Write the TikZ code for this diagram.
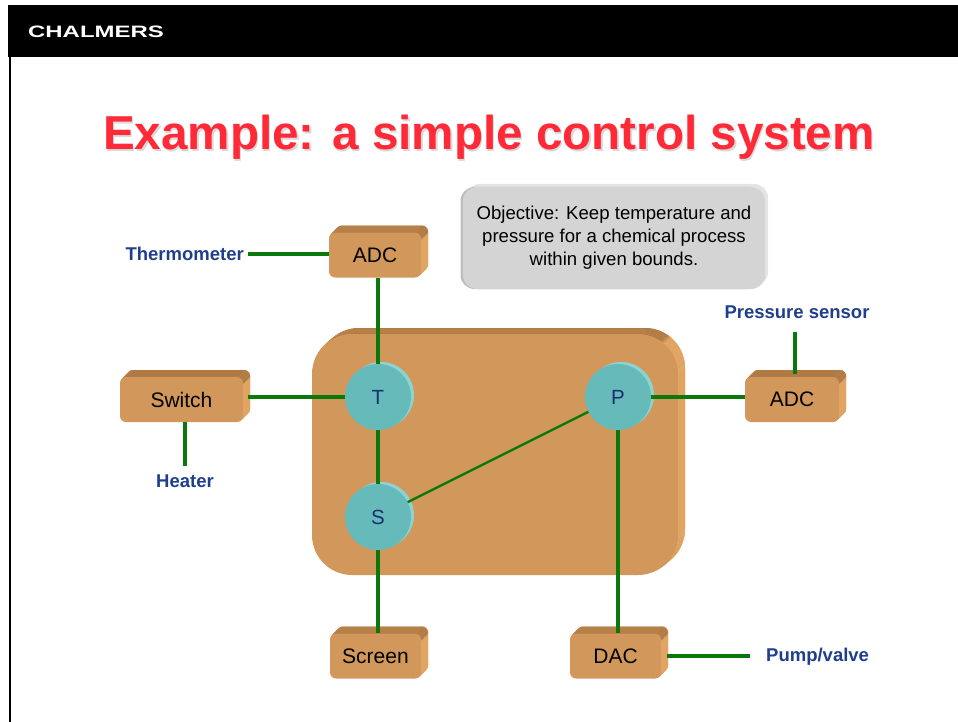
\documentclass[tikz,border=0pt]{standalone}
\usepackage{fontspec}
\setmainfont{Liberation Sans}
\usepackage{graphicx}
\usetikzlibrary{shadows}
\definecolor{boxface}{HTML}{D2975A}
\definecolor{boxtop}{HTML}{B07A45}
\definecolor{boxside}{HTML}{E3A865}
\definecolor{teal}{HTML}{66BABA}
\definecolor{teallight}{HTML}{8ED3D3}
\definecolor{wire}{HTML}{0B780B}
\definecolor{lblue}{HTML}{1F3F8C}
\definecolor{navy}{HTML}{1A2F70}
\definecolor{titlered}{HTML}{FF2A38}
\definecolor{objgray}{HTML}{D4D4D4}
\definecolor{objedge}{HTML}{BDBDBD}
\definecolor{objlight}{HTML}{E4E4E4}
\pgfdeclareverticalshading{extrsmall}{100bp}{color(0bp)=(boxside); color(66bp)=(boxside); color(68bp)=(boxtop); color(100bp)=(boxtop)}
\pgfdeclareverticalshading{extrbig}{100bp}{color(0bp)=(boxside); color(73bp)=(boxside); color(73.6bp)=(boxtop); color(100bp)=(boxtop)}
\begin{document}
\begin{tikzpicture}[x=1pt,y=-1pt,
  exsmall/.style={copy shadow={shadow xshift=7pt, shadow yshift=7pt, shading=extrsmall, draw=none},
    copy shadow={shadow xshift=6pt, shadow yshift=6pt, shading=extrsmall, draw=none},
    copy shadow={shadow xshift=5pt, shadow yshift=5pt, shading=extrsmall, draw=none},
    copy shadow={shadow xshift=4pt, shadow yshift=4pt, shading=extrsmall, draw=none},
    copy shadow={shadow xshift=3pt, shadow yshift=3pt, shading=extrsmall, draw=none},
    copy shadow={shadow xshift=2pt, shadow yshift=2pt, shading=extrsmall, draw=none},
    copy shadow={shadow xshift=1pt, shadow yshift=1pt, shading=extrsmall, draw=none}},
  exbig/.style={copy shadow={shadow xshift=7pt, shadow yshift=6pt, shading=extrbig, draw=none},
    copy shadow={shadow xshift=6pt, shadow yshift=5.1pt, shading=extrbig, draw=none},
    copy shadow={shadow xshift=5pt, shadow yshift=4.3pt, shading=extrbig, draw=none},
    copy shadow={shadow xshift=4pt, shadow yshift=3.4pt, shading=extrbig, draw=none},
    copy shadow={shadow xshift=3pt, shadow yshift=2.6pt, shading=extrbig, draw=none},
    copy shadow={shadow xshift=2pt, shadow yshift=1.7pt, shading=extrbig, draw=none},
    copy shadow={shadow xshift=1pt, shadow yshift=0.9pt, shading=extrbig, draw=none}},
  cbox/.style={rectangle, rounded corners=6pt, fill=boxface, inner sep=0pt,
    minimum width=#1, minimum height=45pt, font=\fontsize{21}{24}\selectfont, exsmall},
  plantbox/.style={rectangle, rounded corners=40pt, fill=boxface, inner sep=0pt,
    minimum width=366pt, minimum height=241pt, exbig},
  ball/.style={circle, fill=teal, minimum size=66pt, inner sep=0pt,
    text=navy, font=\fontsize{20.5}{24}\selectfont,
    copy shadow={shadow xshift=3pt, shadow yshift=2pt, fill=teallight, draw=none}},
  lbl/.style={text=lblue, font=\bfseries\fontsize{18.5}{22}\selectfont, inner sep=2pt},
  wireline/.style={draw=wire, line width=3.2pt},
  thinwire/.style={draw=wire, line width=2.4pt}
]
\useasboundingbox (0,0) rectangle (958,722);
\fill[white] (0,0) rectangle (958,722);
% header
\fill[black] (8,5) rectangle (958,57);
\draw[black, line width=1.6pt] (10,57) -- (10,722);
\node[anchor=base west, text=white, inner sep=0pt] (logo) at (28,38)
  {\scalebox{1.45}[1]{\bfseries\fontsize{16.5}{18}\selectfont CHALMERS}};
% title
\node[anchor=base, text=black!15, inner sep=0pt] (titleshadow) at (490.5,151.5)
  {\bfseries\fontsize{47.6}{56}\selectfont Example: a simple control system};
\node[anchor=base, text=titlered, inner sep=0pt] (title) at (489,150)
  {\bfseries\fontsize{47.6}{56}\selectfont Example: a simple control system};
% objective
\node[rectangle, rounded corners=14pt, fill=objgray, minimum width=302pt,
  minimum height=102pt, align=center, font=\fontsize{18.6}{23}\selectfont,
  copy shadow={shadow xshift=3pt, shadow yshift=3pt, fill=objlight, draw=none},
  copy shadow={shadow xshift=-2.5pt, shadow yshift=0pt, fill=objedge, draw=none}]
  (obj) at (614,238)
  {Objective: Keep temperature and\\pressure for a chemical process\\within given bounds.};
% plant
\node[plantbox] (plant) at (495,454.5) {};
% boxes
\node[cbox=92pt] (adcT) at (375,255) {ADC};
\node[cbox=123pt] (sw) at (181.5,399.5) {Switch};
\node[cbox=94pt] (adcR) at (792,399.5) {ADC};
\node[cbox=91pt] (scr) at (375.5,656) {Screen};
\node[cbox=91pt] (dac) at (615.5,656) {DAC};
% balls
\node[ball] (T) at (378,397) {T};
\node[ball] (S) at (378,517) {S};
\node[ball] (P) at (618,397) {P};
% labels
\node[lbl, anchor=east] (therm) at (246,254) {Thermometer};
\node[lbl] (ps) at (797,312) {Pressure sensor};
\node[lbl] (heat) at (185,481) {Heater};
\node[lbl, anchor=west] (pump) at (764,657) {Pump/valve};
% wires
\draw[wireline, shorten <=2pt] (therm.east) -- (therm.east -| adcT.west);
\draw[wireline] (adcT.south -| T) -- (T.north);
\draw[wireline, shorten <=5pt] (sw.east |- T) -- (T.west);
\draw[wireline] (T) -- (S);
\draw[thinwire] (S) -- (P);
\draw[wireline] (S.south) -- (S.south |- scr.north);
\draw[wireline] (P.east) -- (P.east -| adcR.west);
\draw[wireline] (P.south) -- (P.south |- dac.north);
\draw[wireline, shorten <=6pt] (dac.east) -- ([xshift=-14pt]dac.east -| pump.west);
\draw[wireline, shorten <=11pt, shorten >=3pt] ([xshift=-2pt]ps.south) -- ([xshift=-2pt]ps.south |- adcR.north);
\draw[wireline, shorten >=6pt] (sw.south -| heat) -- (heat.north);
\end{tikzpicture}
\end{document}
